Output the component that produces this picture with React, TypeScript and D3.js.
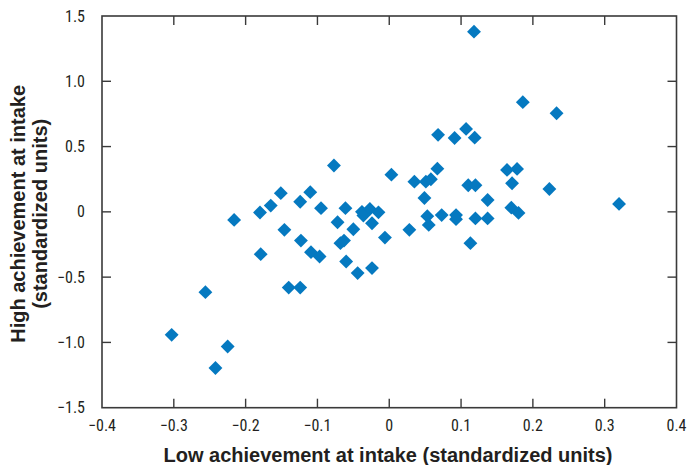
import React from "react";
import * as d3 from "d3";

const lowIntake = [
  0.118, 0.186, 0.233, 0.068, 0.091, 0.107, 0.119, 0.003, 0.035, 0.051,
  0.058, 0.067, 0.049, 0.110, 0.120, 0.137, 0.164, 0.178, 0.171, 0.223,
  0.320, 0.053, 0.073, 0.093, 0.093, 0.120, 0.137, 0.170, 0.180, 0.113,
  0.055, 0.028, -0.006, -0.077, -0.151, -0.165, -0.180, -0.216, -0.124, -0.110,
  -0.095, -0.061, -0.038, -0.027, -0.015, -0.036, -0.024, -0.072, -0.146, -0.050,
  -0.123, -0.068, -0.063, -0.109, -0.097, -0.179, -0.060, -0.044, -0.024, -0.140,
  -0.124, -0.256, -0.303, -0.225, -0.242,
];
const highIntake = [
  1.38, 0.84, 0.755, 0.59, 0.566, 0.635, 0.568, 0.285, 0.231, 0.231,
  0.25, 0.331, 0.106, 0.204, 0.204, 0.091, 0.321, 0.329, 0.219, 0.175,
  0.061, -0.033, -0.025, -0.025, -0.056, -0.05, -0.05, 0.032, -0.008, -0.24,
  -0.1, -0.138, -0.197, 0.355, 0.143, 0.048, -0.005, -0.062, 0.077, 0.151,
  0.028, 0.028, 0.0, 0.022, -0.004, -0.028, -0.087, -0.08, -0.138, -0.133,
  -0.22, -0.24, -0.22, -0.309, -0.342, -0.324, -0.38, -0.469, -0.431, -0.58,
  -0.58, -0.615, -0.942, -1.031, -1.196,
];
const xTicks = [-0.4, -0.3, -0.2, -0.1, 0, 0.1, 0.2, 0.3, 0.4];
const yTicks = [-1.5, -1.0, -0.5, 0, 0.5, 1.0, 1.5];

const W = 689;
const H = 465;
const left = 102;
const right = 676.5;
const top = 16;
const bottom = 407.7;
const tickLen = 9;
const font = "'Liberation Sans Narrow', 'Roboto Condensed', 'Liberation Sans', sans-serif";
const titleFont = "'Liberation Sans', Arial, sans-serif";

// minus sign instead of hyphen, plain 0 at the origin
const fmt = (v: number) => (v === 0 ? "0" : d3.format(".1f")(v).replace("-", "\u2212"));

export default function App() {
  const x = d3.scaleLinear().domain([-0.4, 0.4]).range([left, right]);
  const y = d3.scaleLinear().domain([-1.5, 1.5]).range([bottom, top]);
  const diamond = d3.symbol().type(d3.symbolSquare).size(96)();
  const axisColor = "#3a3a3a";
  const midY = (top + bottom) / 2 + 2;

  return (
    <svg width={W} height={H} style={{ position: "absolute", left: 0, top: 0 }}>
      <rect x={left} y={top} width={right - left} height={bottom - top} fill="none" stroke={axisColor} strokeWidth={1.6} />
      {xTicks.slice(1, -1).map((t) => (
        <g key={"xt" + t}>
          <line x1={x(t)} x2={x(t)} y1={bottom} y2={bottom - tickLen} stroke={axisColor} strokeWidth={1.4} />
          <line x1={x(t)} x2={x(t)} y1={top} y2={top + tickLen} stroke={axisColor} strokeWidth={1.4} />
        </g>
      ))}
      {yTicks.slice(1, -1).map((t) => (
        <g key={"yt" + t}>
          <line x1={left} x2={left + tickLen} y1={y(t)} y2={y(t)} stroke={axisColor} strokeWidth={1.4} />
          <line x1={right} x2={right - tickLen} y1={y(t)} y2={y(t)} stroke={axisColor} strokeWidth={1.4} />
        </g>
      ))}
      {xTicks.map((t) => (
        <text key={"xl" + t} x={x(t)} y={431} textAnchor="middle" fontFamily={font} fontSize={16} fill="#231f20">
          {fmt(t)}
        </text>
      ))}
      {yTicks.map((t) => (
        <text key={"yl" + t} x={85} y={y(t) + 5.5} textAnchor="end" fontFamily={font} fontSize={16} fill="#231f20">
          {fmt(t)}
        </text>
      ))}
      {lowIntake.map((v, i) => (
        <path
          key={"p" + i}
          d={diamond}
          transform={`translate(${x(v)},${y(highIntake[i])}) rotate(45)`}
          fill="#0579c0"
        />
      ))}
      <text x={388} y={462} textAnchor="middle" fontFamily={titleFont} fontWeight="bold" fontSize={20} fill="#231f20">
        Low achievement at intake (standardized units)
      </text>
      <g transform={`translate(25, ${midY}) rotate(-90)`}>
        <text x={0} y={0} textAnchor="middle" fontFamily={titleFont} fontWeight="bold" fontSize={20} fill="#231f20">
          High achievement at intake
        </text>
        <text x={0} y={21.5} textAnchor="middle" fontFamily={titleFont} fontWeight="bold" fontSize={20} fill="#231f20">
          (standardized units)
        </text>
      </g>
    </svg>
  );
}
